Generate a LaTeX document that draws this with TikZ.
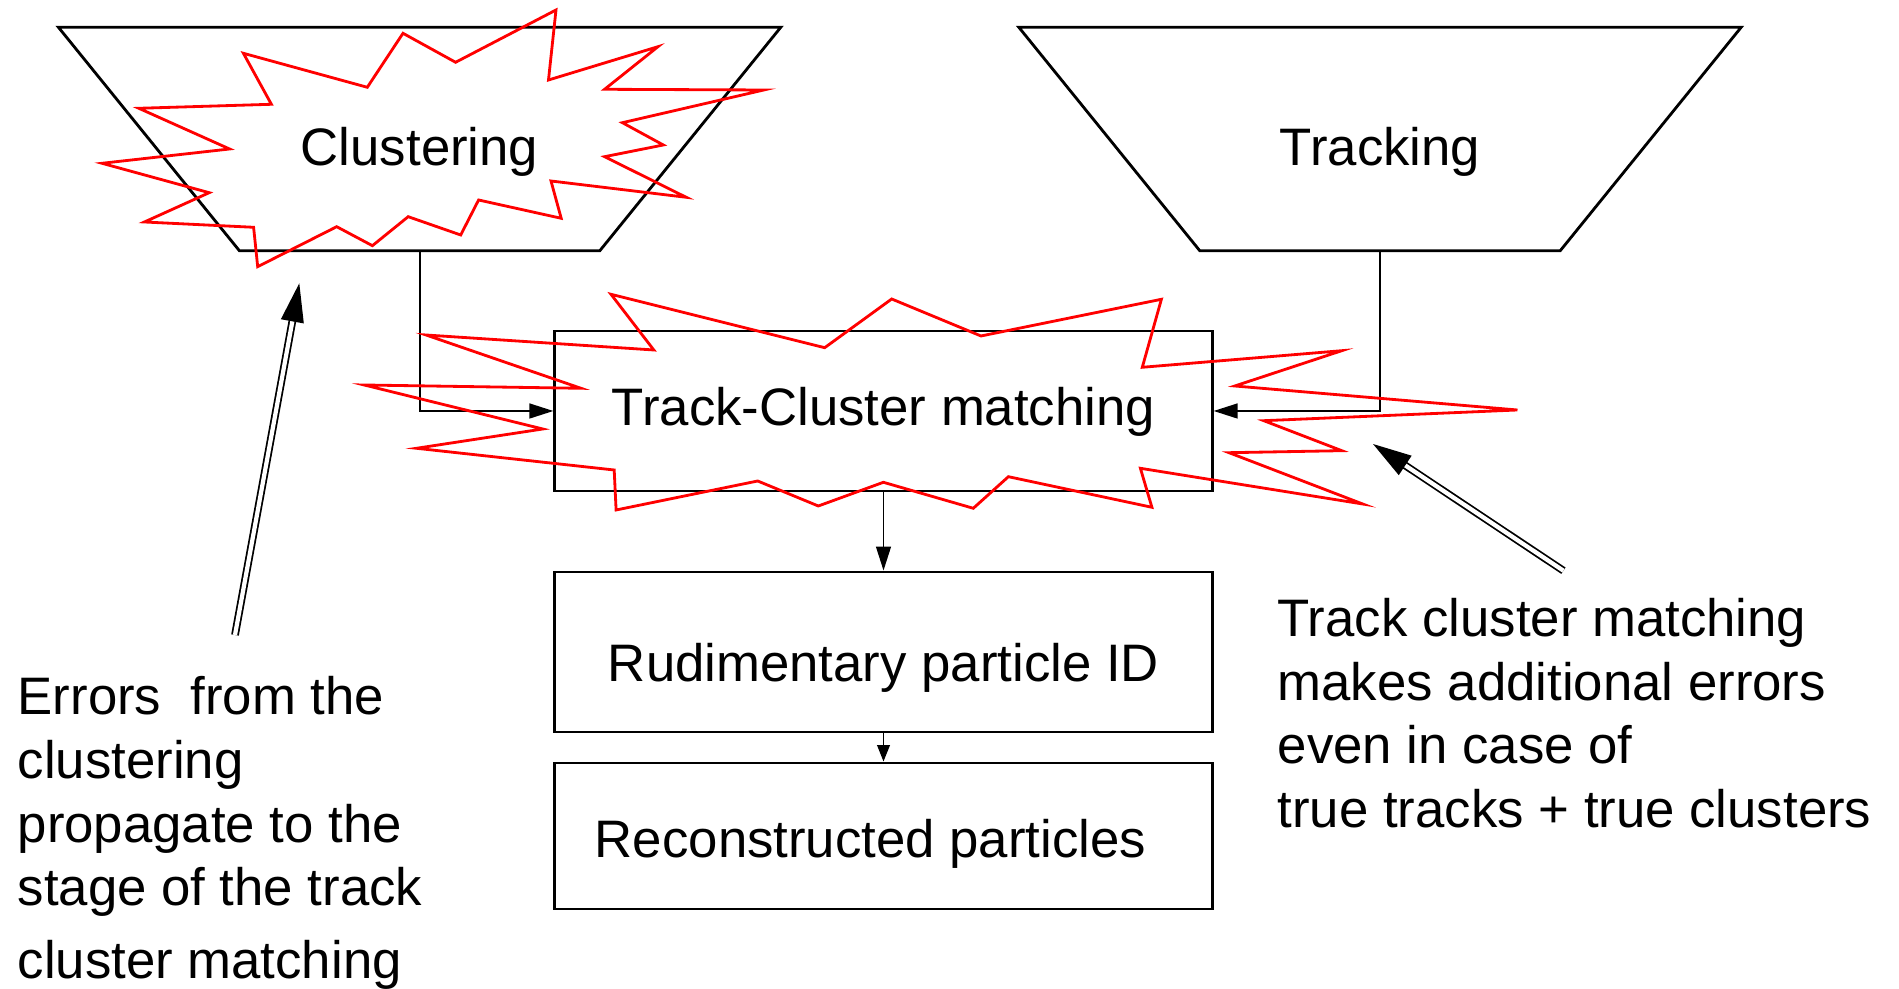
\documentclass[tikz,border=0pt]{standalone}
\usepackage{fontspec}
\setmainfont{Liberation Sans}
\usetikzlibrary{shapes.geometric,arrows.meta}

\begin{document}
\begin{tikzpicture}[x=0.01cm, y=-0.01cm,
    every node/.style={font=\fontsize{15pt}{18.1pt}\selectfont},
    stage/.style={trapezium, shape border rotate=180, trapezium angle=51,
        trapezium stretches body, minimum width=7.22cm,
        draw, line width=0.8pt, inner sep=0pt, text height=1.384cm, text depth=0.85cm},
    box/.style={draw, line width=0.8pt, minimum width=6.57cm, inner sep=0pt, text depth=0pt},
    note/.style={anchor=base west, align=left, inner sep=0pt},
    link/.style={line width=0.55pt, -{Triangle[length=6.8pt,width=4.2pt]}},
    hint/.style={double, double distance=1.2pt, line width=0.5pt, -{Triangle[length=11pt,width=6.5pt]}},
    burst/.style={draw=red, line width=0.8pt}]
    \useasboundingbox (0,0) rectangle (1899,989);

    % Draw nodes
    \node[stage] (clust) at (419.6,139) {Clustering};
    \node[stage] (track) at (1380,139) {Tracking};
    \node[box, minimum height=1.6cm, text height=0.294cm] (tcm) at (883.5,411) {Track-Cluster matching};
    \node[box, minimum height=1.6cm, text height=0.58cm] (rud) at (883.5,652) {Rudimentary particle ID};
    \node[box, minimum height=1.46cm, text height=0.426cm] (rec) at (883.5,836) {Reconstructed particles\kern0.26cm};

    \node[note] (errnote) at (17,978.6) {Errors~~from the\\clustering\\propagate to the\\stage of the track\\[2.6pt]cluster matching};
    \node[note] (tcmnote) at (1277,827.6) {Track cluster matching\\makes additional errors\\even in case of\\true tracks + true clusters};

    \coordinate (errtail) at (235,635);
    \coordinate (errtip) at (299.3,283.3);
    \coordinate (tcmtail) at (1563.4,570.7);
    \coordinate (tcmtip) at (1373,444);

    % Draw edges
    \draw[link] (clust) |- (tcm.west);
    \draw[link] (track) |- (tcm.east);
    \draw[link] (tcm) -- (rud);
    \draw[link, -{Triangle[length=4.7pt,width=3.6pt]}] (rud) -- (rec);
    \draw[hint] (errtail) -- (errtip);
    \draw[hint] (tcmtail) -- (tcmtip);

    % Error bursts
    \draw[burst] (556,10) -- (548.5,80) -- (658,46.7) -- (604.6,89.3) -- (763.8,90)
        -- (622.4,122.7) -- (663.3,145) -- (604.6,156.7) -- (686.2,197.3) -- (551,181)
        -- (561.2,218.3) -- (478.6,200) -- (460.7,235) -- (408.2,216.7) -- (372.4,245.7)
        -- (336.7,226.7) -- (257.7,266.7) -- (253.6,227.3) -- (144.4,222) -- (209.2,192.7)
        -- (102,163.3) -- (229.6,149) -- (138.8,108.3) -- (271.4,104.3) -- (243.4,53.3)
        -- (367.3,87.3) -- (403,33.3) -- (455.6,62.3) -- cycle;
    \draw[burst] (611,294.3) -- (824.7,347.7) -- (891.7,299) -- (981,336) -- (1161.4,299.3)
        -- (1142.3,367.3) -- (1341.8,350.7) -- (1234.8,386) -- (1517.4,410) -- (1263.8,420.7)
        -- (1341.8,450.7) -- (1229,452.7) -- (1362.7,504) -- (1140.4,468.3) -- (1151.9,507.3)
        -- (1008.4,476.7) -- (973.3,508.3) -- (883.4,482.3) -- (818.3,506) -- (757.7,481)
        -- (616.1,510) -- (614.2,470) -- (416.5,448.3) -- (542.8,429) -- (364.2,385)
        -- (581,388.3) -- (426,335) -- (653.8,350) -- cycle;
\end{tikzpicture}
\end{document}
